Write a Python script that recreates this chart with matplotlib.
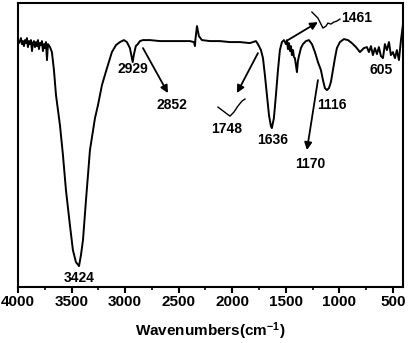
import matplotlib
matplotlib.use('Agg')
import matplotlib.pyplot as plt
from matplotlib.ticker import MultipleLocator

plt.rcParams['font.family'] = ['Liberation Sans', 'DejaVu Sans']
plt.rcParams['font.weight'] = 'bold'
plt.rcParams['mathtext.fontset'] = 'custom'
plt.rcParams['mathtext.rm'] = 'Liberation Sans:bold'
plt.rcParams['mathtext.default'] = 'rm'

# FTIR spectrum (wavenumber in cm-1, transmittance in arbitrary units)
wavenumber = [4000, 3991, 3981, 3972, 3963, 3953, 3944, 3935, 3925, 3916,
              3907, 3897, 3888, 3879, 3869, 3860, 3851, 3841, 3832, 3823,
              3813, 3804, 3795, 3785, 3776, 3767, 3757, 3748, 3739, 3729,
              3720, 3701, 3683, 3664,
              3645, 3627, 3608, 3580, 3552, 3515, 3487, 3459, 3430, 3412,
              3393, 3365, 3328, 3281, 3253, 3216, 3169, 3123, 3085, 3048,
              3011, 2983, 2955, 2937, 2929, 2919, 2900, 2881, 2861, 2833,
              2768, 2675, 2581, 2488, 2395, 2357, 2348, 2344, 2329, 2311,
              2283, 2208, 2115, 2021, 1928, 1835, 1779, 1760, 1732, 1713,
              1695, 1676, 1657, 1639, 1630, 1611, 1592, 1573, 1555, 1536,
              1517, 1499, 1489, 1480, 1471, 1461, 1452, 1443, 1433, 1424,
              1415, 1405, 1396, 1387, 1377, 1359,
              1340, 1312, 1284, 1256, 1228, 1200, 1172, 1153, 1135, 1116,
              1097, 1079, 1060, 1041, 1023, 995, 957, 920, 883, 845,
              808, 789, 771, 743, 724, 705, 687, 668, 649, 631,
              612, 593, 575, 556, 537, 519, 500, 481, 463, 444,
              425, 407]
transmittance = [247, 244, 246, 249, 243, 246, 241, 247, 244, 249,
                 240, 246, 243, 247, 236, 244, 246, 240, 245, 241,
                 247, 238, 244, 242, 246, 236, 243, 239, 245, 227,
                 243, 240, 235, 217,
                 192, 177, 162, 132, 97, 62, 37, 25, 21, 32,
                 47, 87, 137, 169, 182, 202, 219, 235, 242, 245,
                 247, 245, 239, 229, 225, 232, 241, 243, 246, 247,
                 247, 246, 246, 246, 246, 245, 241, 247, 261, 251,
                 247, 246, 246, 245, 245, 244, 246, 243, 237, 229,
                 212, 192, 172, 161, 159, 169, 192, 217, 237, 245,
                 247, 243, 247, 238, 244, 236, 241, 232, 237, 230,
                 229, 222, 215, 226, 231, 239,
                 243, 246, 247, 243, 235, 225, 217, 207, 199, 197,
                 199, 205, 217, 229, 239, 245, 248, 247, 244, 240,
                 235, 237, 239, 240, 235, 241, 232, 239, 233, 240,
                 231, 229, 243, 237, 245, 232, 235, 229, 237, 227,
                 247, 262]

# zoomed insets of weak bands
inset_1748_x = [2133, 2096, 2059, 2021, 1984, 1947, 1909, 1881]
inset_1748_y = [180, 177, 174, 171, 175, 181, 186, 188]
inset_1461_x = [1256, 1228, 1200, 1172, 1153, 1125, 1107, 1079, 1051, 1023, 995]
inset_1461_y = [275, 272, 269, 263, 259, 261, 264, 263, 265, 266, 268]

# peak labels: (text, x, y)
labels = [('3424', 3431, 9), ('2929', 2927, 218), ('2852', 2563, 182),
          ('1748', 2049, 158), ('1636', 1620, 147), ('1116', 1069, 182),
          ('1170', 1275, 123), ('1461', 836, 269), ('605', 612, 217)]

# arrows: (start, end)
arrows = [((2833, 239), (2600, 194)),
          ((1760, 234), (1956, 194)),
          ((1200, 207), (1303, 137)),
          ((1480, 247), (1200, 265))]

fig = plt.figure(figsize=(4.08, 3.43), dpi=100)
ax = fig.add_axes([0.044, 0.163, 0.944, 0.828])

ax.plot(wavenumber, transmittance, color='black', lw=1.4)
ax.plot(inset_1748_x, inset_1748_y, color='black', lw=1.0)
ax.plot(inset_1461_x, inset_1461_y, color='black', lw=1.0)

for text, x, y in labels:
    ax.text(x, y, text, ha='center', va='center', fontsize=10, fontweight='bold')

for start, end in arrows:
    ax.annotate('', xy=end, xytext=start,
                arrowprops=dict(arrowstyle='-|>', color='black', lw=1.3,
                                mutation_scale=11, shrinkA=0, shrinkB=0))

ax.set_xlim(4000, 405)
ax.set_ylim(0, 284)
ax.xaxis.set_major_locator(MultipleLocator(500))
ax.xaxis.set_minor_locator(MultipleLocator(250))
ax.set_yticks([])
ax.tick_params(axis='x', which='major', direction='out', length=4, width=1.5,
               labelsize=11, pad=2)
ax.tick_params(axis='x', which='minor', direction='out', length=2.5, width=1.2)
for lab in ax.get_xticklabels():
    lab.set_fontweight('bold')
for sp in ax.spines.values():
    sp.set_linewidth(1.5)

ax.set_xlabel('Wavenumbers(cm$^{-1}$)', fontsize=11, fontweight='bold', labelpad=8)

fig.savefig('out.png', dpi=100)
